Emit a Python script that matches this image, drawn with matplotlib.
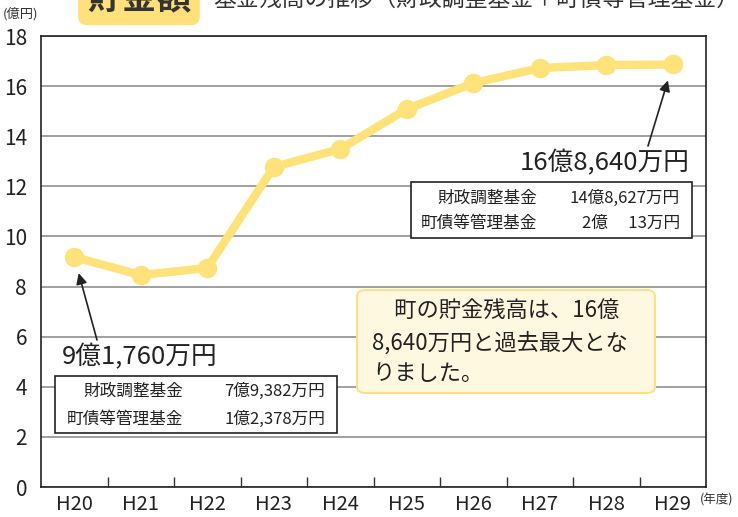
import matplotlib
matplotlib.use('Agg')
import matplotlib.pyplot as plt
from matplotlib.patches import Rectangle, FancyBboxPatch

plt.rcParams['font.family'] = ['Noto Sans CJK JP', 'DejaVu Sans']

# data (億円)
years = ['H20', 'H21', 'H22', 'H23', 'H24', 'H25', 'H26', 'H27', 'H28', 'H29']
balance = [9.176, 8.46, 8.74, 12.77, 13.49, 15.08, 16.12, 16.72, 16.84, 16.864]
y_ticks = [0, 2, 4, 6, 8, 10, 12, 14, 16, 18]

first_total = '9億1,760万円'
first_rows = [('財政調整基金', '7億9,382万円'), ('町債等管理基金', '1億2,378万円')]
last_total = '16億8,640万円'
last_rows = [('財政調整基金', '14億8,627万円'), ('町債等管理基金', '2億　 13万円')]
note_lines = ['　町の貯金残高は、16億', '8,640万円と過去最大とな', 'りました。']

W, H = 738, 517
def fx(x):
    return x / W
def fy(y):
    return 1 - y / H

fig = plt.figure(figsize=(7.38, 5.17), dpi=100)
ax = fig.add_axes([fx(41), fy(487), 665 / W, 451 / H])

xs = list(range(len(years)))
ax.plot(xs, balance, color='#FFE27A', lw=6, marker='o', ms=13,
        solid_capstyle='round', zorder=5, clip_on=False)

ax.set_xlim(-0.5, len(years) - 0.5)
ax.set_ylim(0, 18)
ax.set_yticks(y_ticks)
ax.set_yticklabels([str(t) for t in y_ticks], fontsize=15, color='#222')
ax.set_xticks(xs)
ax.set_xticklabels(years, fontsize=14.5, color='#222')
ax.set_xticks([i + 0.5 for i in xs[:-1]], minor=True)
ax.tick_params(axis='x', which='major', length=0, pad=5)
ax.tick_params(axis='x', which='minor', direction='in', length=7, width=1, color='#333')
ax.tick_params(axis='y', length=0, pad=10)
ax.yaxis.grid(True, color='#a0a0a0', lw=1.4)
ax.set_axisbelow(True)
for s in ax.spines.values():
    s.set_color('#222')
    s.set_linewidth(1.2)

# title (cut at top edge)
fig.text(fx(139), fy(-1), '貯金額', fontsize=25, fontweight='bold', color='#333',
         ha='center', va='center',
         bbox=dict(boxstyle='round,pad=0.25', fc='#FFE07A', ec='none'))
fig.text(fx(213), fy(-1), '基金残高の推移（財政調整基金＋町債等管理基金）',
         fontsize=16.5, color='#333', ha='left', va='center')
fig.text(fx(3), fy(14), '(億円)', fontsize=9.5, color='#333', ha='left', va='center')
fig.text(fx(700), fy(500), '(年度)', fontsize=9, color='#333', ha='left', va='center')

# H29 annotation
ax.annotate('', xy=(9, balance[-1]), xycoords='data',
            xytext=(648, H - 146), textcoords='figure pixels',
            arrowprops=dict(arrowstyle='-|>', color='#222', lw=1.2,
                            mutation_scale=16, shrinkA=0, shrinkB=12))
fig.text(fx(690), fy(163), last_total, fontsize=18.5, color='#222', ha='right', va='center')
ax.add_patch(Rectangle((fx(411), fy(238)), 281 / W, 56 / H, transform=fig.transFigure,
                       fc='white', ec='#222', lw=1.2, clip_on=False, zorder=3))
for (lab, val), yy in zip(last_rows, [198, 223]):
    fig.text(fx(537), fy(yy), lab, fontsize=12, color='#222', ha='right', va='center')
    fig.text(fx(680), fy(yy), val, fontsize=12, color='#222', ha='right', va='center')

# H20 annotation
ax.annotate('', xy=(0, balance[0]), xycoords='data',
            xytext=(97, H - 340), textcoords='figure pixels',
            arrowprops=dict(arrowstyle='-|>', color='#222', lw=1.2,
                            mutation_scale=16, shrinkA=0, shrinkB=12))
fig.text(fx(62), fy(357), first_total, fontsize=18.5, color='#222', ha='left', va='center')
ax.add_patch(Rectangle((fx(55), fy(433)), 282 / W, 57 / H, transform=fig.transFigure,
                       fc='white', ec='#222', lw=1.2, clip_on=False, zorder=3))
for (lab, val), yy in zip(first_rows, [391, 419]):
    fig.text(fx(183), fy(yy), lab, fontsize=12, color='#222', ha='right', va='center')
    fig.text(fx(325), fy(yy), val, fontsize=12, color='#222', ha='right', va='center')

# note box
ax.add_patch(FancyBboxPatch((fx(357), fy(393)), 298 / W, 103 / H,
                            boxstyle='round,pad=0,rounding_size=0.012',
                            transform=fig.transFigure, fc='#FFF8E1', ec='#FFE08A',
                            lw=1.5, clip_on=False, zorder=3))
for line, yy in zip(note_lines, [310, 343, 373]):
    fig.text(fx(372), fy(yy), line, fontsize=16, color='#222', ha='left', va='center')

fig.savefig('out.png', dpi=100)
